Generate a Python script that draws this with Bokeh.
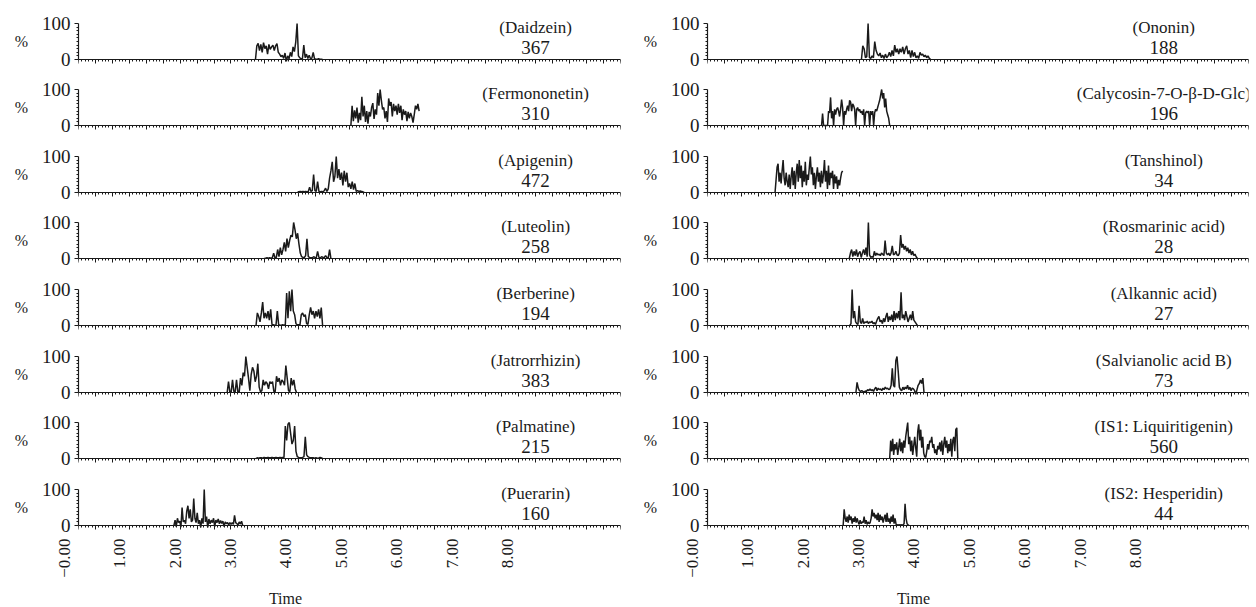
import math
import numpy as np
from bokeh.plotting import figure
from bokeh.layouts import row, column
from bokeh.models import Range1d, FixedTicker, CustomLabelingPolicy
from bokeh.core.properties import value
from bokeh.embed import file_html
from bokeh.resources import INLINE

FONT = "Liberation Serif"
INK = "#1a1a1a"

# ---------------- data ----------------
left_names = ["(Daidzein)", "(Fermononetin)", "(Apigenin)", "(Luteolin)",
              "(Berberine)", "(Jatrorrhizin)", "(Palmatine)", "(Puerarin)"]
left_counts = ["367", "310", "472", "258", "194", "383", "215", "160"]
right_names = ["(Ononin)", "(Calycosin-7-O-\u03b2-D-Glc)", "(Tanshinol)", "(Rosmarinic acid)",
               "(Alkannic acid)", "(Salvianolic acid B)", "(IS1: Liquiritigenin)", "(IS2: Hesperidin)"]
right_counts = ["188", "196", "34", "28", "27", "73", "560", "44"]

time_tick_values = [0, 1, 2, 3, 4, 5, 6, 7, 8]
time_tick_labels = ["\u22120.00", "1.00", "2.00", "3.00", "4.00", "5.00", "6.00", "7.00", "8.00"]

# each trace: (start time, end time) and intensity (%) read at even steps
daidzein_span = (3.45, 4.66)
daidzein = [0, 38, 45, 25, 42, 20, 47, 30, 38, 15, 42, 28, 35, 40, 25, 38, 44, 20, 15, 8, 12, 3, 18, -5, 10,
            2, 20, 8, 35, 22, 48, 100, 10, 5, 2, 3, 40, 5, 15, 3, 12, 2, 4, 20, 2, 1, 1, 2, 1, 1, 0]
fermononetin_span = (5.17, 6.40)
fermononetin = [0, 55, 12, 42, 20, 50, 8, 35, 15, 80, 25, 55, 10, 40, 5, 38, 25, 50, 62, 18, 45, 30, 90, 55,
                100, 70, 45, 50, 20, 40, 10, 75, 55, 65, 25, 60, 40, 55, 30, 60, 35, 55, 15, 45, 30, 40, 12,
                38, 20, 35, 25, 8, 30, 55, 45, 60, 40]
apigenin_span = (4.21, 5.41)
apigenin = [2, 2, 3, 2, 3, 2, 3, 2, 3, 15, 3, 5, 50, 5, 3, 30, 3, 2, 3, 2, 5, 12, 3, 10, 40, 60, 85, 30, 45,
            100, 40, 65, 35, 55, 20, 60, 30, 55, 15, 25, 10, 30, 8, 25, 3, 5, 3, 4, 3, 2, 0]
luteolin_span = (3.61, 4.81)
luteolin = [0, 1, 2, 1, 2, 1, 2, 15, 2, 3, 25, 5, 30, 10, 25, 45, 20, 55, 30, 50, 65, 60, 100, 80, 55, 70,
            40, 15, 5, 3, 3, 8, 55, 5, 3, 2, 2, 5, 3, 2, 20, 3, 2, 5, 3, 3, 8, 3, 2, 25, 0]
berberine_span = (3.46, 4.66)
berberine = [0, 35, 25, 10, 35, 65, 20, 35, 20, 40, 15, 45, 3, 2, 1, 1, 40, 2, 1, 1, 2, 1, 2, 90, 20, 95,
             40, 100, 40, 30, 5, 2, 2, 2, 30, 35, 25, 30, 5, 3, 30, 50, 30, 40, 20, 40, 25, 45, 20, 50, 0]
jatrorrhizin_span = (2.94, 4.19)
jatrorrhizin = [0, 30, 2, 1, 35, 3, 2, 35, 2, 1, 40, 20, 55, 45, 100, 70, 40, 5, 50, 70, 60, 30, 45, 80, 15,
                2, 5, 35, 20, 30, 25, 10, 30, 25, 30, 3, 2, 45, 30, 40, 20, 35, 30, 20, 75, 40, 5, 2, 40,
                20, 35, 10, 0]
palmatine_span = (3.46, 4.66)
palmatine = [0, 2, 1, 2, 2, 1, 3, 2, 2, 3, 2, 2, 3, 2, 2, 3, 2, 2, 3, 2, 3, 3, 90, 50, 95, 100, 70, 40, 50,
             90, 20, 5, 3, 2, 2, 3, 5, 60, 10, 5, 3, 2, 2, 2, 1, 2, 1, 1, 3, 2, 0]
puerarin_span = (1.98, 3.22)
puerarin = [0, 15, -3, 20, 8, 12, -5, 50, 10, 15, 5, 40, 55, 20, 45, 10, 15, 75, 20, 8, 35, 5, 15, -5, 20,
            5, 100, 10, 25, -5, 18, 5, 15, 8, 20, -3, 15, 8, 18, 5, 14, 6, 12, -3, 10, 5, 8, 2, 8, 3, 8, 3,
            28, 8, 5, 2, 10, 4, 12, 0]

ononin_span = (3.04, 4.29)
ononin = [0, 38, 30, 5, 8, 100, 5, 3, 10, 5, 50, 25, 15, 10, 18, 5, 12, 3, 15, 5, 10, 20, 8, 25, 10, 40, 20,
          30, 15, 30, 20, 35, 15, 30, 38, 15, 25, 5, 25, 8, 20, 5, 10, 3, 20, 12, 15, 8, 12, 5, 10, 3, 0]
calycosin_span = (2.32, 3.55)
calycosin = [0, 33, 0, 0, 0, 0, 0, 40, 35, 78, 20, 40, 0, 45, 30, 45, 50, 40, 25, 45, 72, 50, 0, 40, 30, 45,
             55, 40, 70, 65, 40, 60, 55, 45, 0, 45, 50, 40, 45, 35, 40, 30, 45, 0, 35, 40, 35, 40, 0, 40,
             30, 40, 0, 35, 45, 40, 50, 60, 70, 85, 100, 75, 90, 50, 75, 40, 30, 20, 0]
tanshinol_span = (1.48, 2.70)
tanshinol = [0, 35, 70, 80, 30, 55, 25, 60, 90, 40, 20, 55, 30, 15, 50, 10, 45, 70, 20, 60, 10, 55, 80, 30,
             90, 40, 75, 15, 60, 30, 85, 20, 50, 35, 70, 100, 50, 70, 20, 55, 10, 45, 70, 30, 55, 15, 60,
             25, 50, 90, 30, 60, 10, 75, 20, 55, 40, 60, 10, 50, 25, 45, 10, 35, 20, 40, 55, 60]
rosmarinic_span = (2.82, 4.05)
rosmarinic = [0, 15, 25, 5, 20, 8, 25, 5, 15, 20, 3, 15, 25, 10, 30, 5, 100, 10, 3, 5, 3, 20, 8, 15, 10, 12,
              8, 15, 12, 8, 50, 15, 10, 15, 8, 15, 35, 10, 12, 20, 10, 8, 15, 65, 30, 40, 25, 35, 20, 30,
              15, 25, 10, 20, 8, 12, 5, 0]
alkannic_span = (2.83, 4.05)
alkannic = [0, 5, 100, 20, 40, 10, 5, 3, 55, 10, 5, 20, 5, 10, 8, 12, 5, 10, 8, 12, 5, 8, 3, 12, 20, 25, 10,
            15, 5, 20, 10, 25, 35, 10, 25, 15, 30, 10, 40, 15, 35, 20, 40, 15, 92, 20, 30, 15, 40, 25, 10,
            20, 30, 15, 40, 15, 10, 5, 0]
salvianolic_span = (2.94, 4.17)
salvianolic = [0, 28, 12, 5, 3, 5, 3, 2, 4, 3, 8, 5, 10, 5, 8, 3, 10, 15, 5, 12, 8, 10, 5, 12, 8, 15, 10, 12,
               8, 10, 20, 67, 20, 15, 88, 100, 60, 15, 8, 5, 15, 8, 15, 10, 20, 8, 15, 5, 12, 10, 5, -5, 8,
               20, 25, 35, 25, 40, 0]
liquiritigenin_span = (3.55, 4.78)
liquiritigenin = [0, 50, 20, 55, 10, 40, 25, 45, 10, 30, 55, 20, 45, 15, 50, 30, 60, 80, 100, 40, 60, 20, 50,
                  10, 35, 60, 30, 5, 75, 95, 50, 80, 30, 60, 15, 5, 3, 20, 40, 25, 50, 45, 60, 30, 40, 15,
                  25, 10, 35, 25, 45, 20, 50, 10, 40, 60, 30, 50, 15, 40, 20, 55, 5, 50, 60, 20, 80, 85, 0]
hesperidin_span = (2.71, 3.90)
hesperidin = [0, 45, 20, 10, 25, 8, 30, 15, 25, 5, 20, 10, 25, 8, 20, 10, 3, 15, 5, 10, 8, 25, 5, 15, 3, 10,
              5, 8, 20, 45, 25, 35, 20, 30, 15, 35, 10, 30, 15, 25, 8, 20, 30, 10, 35, 10, 20, 5, 25, 10,
              30, 5, 20, 3, 2, 1, 2, 1, 2, 1, 2, 5, 60, 20, 5, 2, 0]

left_traces = [(daidzein_span, daidzein), (fermononetin_span, fermononetin), (apigenin_span, apigenin),
               (luteolin_span, luteolin), (berberine_span, berberine), (jatrorrhizin_span, jatrorrhizin),
               (palmatine_span, palmatine), (puerarin_span, puerarin)]
right_traces = [(ononin_span, ononin), (calycosin_span, calycosin), (tanshinol_span, tanshinol),
                (rosmarinic_span, rosmarinic), (alkannic_span, alkannic), (salvianolic_span, salvianolic),
                (liquiritigenin_span, liquiritigenin), (hesperidin_span, hesperidin)]

# ---------------- layout / style ----------------
X0, X1 = 0.26, 10.03
N_MAJOR = 32
STEP = (X1 - X0) / N_MAJOR
major_ticks = [X0 + k * STEP for k in range(N_MAJOR + 1)]
minor_ticks = [X0 + k * STEP / 5 for k in range(N_MAJOR * 5 + 1)]
PX_PER_UNIT = 542 / (X1 - X0)
PX_PER_PCT = 58 / 161.0
NAME_X = 8.5
NAME_Y = 88
COUNT_Y = 32.5
# per row: figure height, top border, frame height (frame always centred on 50 %)
heights = [78, 67, 66, 67, 67, 66, 67, 60]
tops = [12, 0, 0, 0, 0, 0, 0, 4]
frames = [58, 58, 58, 58, 58, 58, 58, 50]
LABEL_FIG_H = 69

HIDE_LABELS = "for (const i of [...indices]) { indices.unset(i) }\nreturn indices"


def no_align(fig):
    try:
        fig.frame_align = False
    except Exception:
        pass


def make_panel(col, i, name, count, span, vals):
    h, top, fh = heights[i], tops[i], frames[i]
    bottom = h - top - fh
    half = fh / PX_PER_PCT / 2.0
    if col == 0:
        w, bl, br = 640, 78, 20
    else:
        w, bl, br = 616, 66, 8
    p = figure(width=w, height=h, x_range=Range1d(X0, X1), y_range=Range1d(50 - half, 50 + half),
               output_backend="svg", toolbar_location=None, title=None,
               min_border_left=bl, min_border_right=br, min_border_top=top, min_border_bottom=bottom)
    no_align(p)
    p.outline_line_color = None
    p.grid.visible = False
    p.background_fill_color = "white"
    p.border_fill_color = "white"

    ya = p.yaxis[0]
    ya.ticker = FixedTicker(ticks=[0, 100], minor_ticks=list(range(10, 100, 10)))
    ya.bounds = (0, 100)
    ya.major_label_text_font = FONT
    ya.major_label_text_font_size = "19px"
    ya.major_label_text_color = INK
    ya.major_label_standoff = 4
    ya.major_tick_out = 4
    ya.major_tick_in = 0
    ya.minor_tick_out = 2
    ya.minor_tick_in = 0
    ya.axis_line_color = INK
    ya.major_tick_line_color = INK
    ya.minor_tick_line_color = INK
    ya.axis_line_width = 1.2
    ya.axis_label = "%"
    ya.axis_label_text_font = FONT
    ya.axis_label_text_font_style = "normal"
    ya.axis_label_text_font_size = "16px"
    ya.axis_label_text_color = INK
    ya.axis_label_standoff = 11
    ya.axis_label_orientation = "horizontal"

    xa = p.xaxis[0]
    xa.fixed_location = 0
    xa.ticker = FixedTicker(ticks=major_ticks, minor_ticks=minor_ticks)
    xa.major_label_policy = CustomLabelingPolicy(code=HIDE_LABELS)
    xa.major_label_text_font_size = "1px"
    xa.major_label_standoff = 0
    xa.major_tick_out = 4
    xa.major_tick_in = 0
    xa.minor_tick_out = 2
    xa.minor_tick_in = 0
    xa.axis_line_color = INK
    xa.major_tick_line_color = INK
    xa.minor_tick_line_color = INK
    xa.axis_line_width = 1.2

    t = np.linspace(span[0], span[1], len(vals))
    p.line(t, vals, line_color=INK, line_width=1.5)
    p.text(x=[NAME_X], y=[NAME_Y], text=[name],
           text_align="center", text_baseline="middle", text_font=value(FONT),
           text_font_size="17px", text_color=INK)
    p.text(x=[NAME_X], y=[COUNT_Y], text=[count],
           text_align="center", text_baseline="middle", text_font=value(FONT),
           text_font_size="19px", text_color=INK)
    return p


def make_time_axis(col):
    # frame centred on the "Time" title; scale identical to the panels
    if col == 0:
        w, bl, fw = 640, 40, 490
        xs = X0 - (78 - bl) / PX_PER_UNIT
    else:
        w, bl, fw = 616, 20, 506
        xs = X0 - (66 - bl) / PX_PER_UNIT
    br = w - bl - fw
    xe = xs + fw / PX_PER_UNIT
    q = figure(width=w, height=LABEL_FIG_H, x_range=Range1d(xs, xe), y_range=Range1d(0, 1),
               output_backend="svg", toolbar_location=None, title=None, y_axis_location=None,
               min_border_left=bl, min_border_right=br, min_border_top=0,
               min_border_bottom=LABEL_FIG_H - 1)
    no_align(q)
    q.outline_line_color = None
    q.grid.visible = False
    xa = q.xaxis[0]
    xa.ticker = FixedTicker(ticks=time_tick_values)
    xa.major_label_overrides = dict(zip(time_tick_values, time_tick_labels))
    xa.major_label_orientation = math.pi / 2
    xa.major_label_text_font = FONT
    xa.major_label_text_font_size = "17px"
    xa.major_label_text_color = INK
    xa.major_label_standoff = 0
    xa.axis_line_color = None
    xa.major_tick_line_color = None
    xa.minor_tick_line_color = None
    xa.major_tick_out = 0
    xa.major_tick_in = 0
    xa.axis_label = "Time"
    xa.axis_label_text_font = FONT
    xa.axis_label_text_font_style = "normal"
    xa.axis_label_text_font_size = "16px"
    xa.axis_label_text_color = INK
    xa.axis_label_standoff = 9
    return q


left_col = [make_panel(0, i, left_names[i], left_counts[i], *left_traces[i]) for i in range(8)]
left_col.append(make_time_axis(0))
right_col = [make_panel(1, i, right_names[i], right_counts[i], *right_traces[i]) for i in range(8)]
right_col.append(make_time_axis(1))

layout = row(column(*left_col), column(*right_col))
open("out.html", "w").write(file_html(layout, INLINE))
